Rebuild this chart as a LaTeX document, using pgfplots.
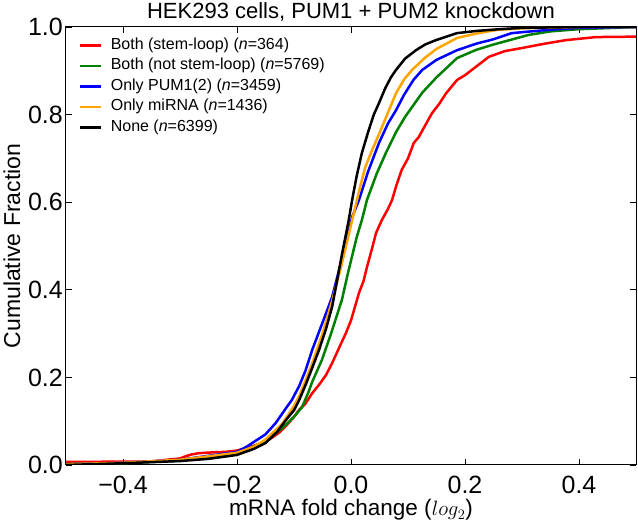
\documentclass[border=0pt]{standalone}
\usepackage{fontspec}
\setmainfont{Liberation Sans}
\usepackage{pgfplots}
\pgfplotsset{compat=1.18}
\definecolor{mplgreen}{RGB}{0,128,0}
\definecolor{mplorange}{RGB}{255,165,0}

\begin{document}
\begin{tikzpicture}
\begin{axis}[
    name=ax,
    scale only axis,
    width=570pt, height=438pt,
    xmin=-0.5, xmax=0.5, ymin=0, ymax=1,
    xtick={-0.4,-0.2,0,0.2,0.4},
    xticklabels={−0.4,−0.2,0.0,0.2,0.4},
    ytick={0,0.2,0.4,0.6,0.8,1},
    yticklabels={0.0,0.2,0.4,0.6,0.8,1.0},
    tick align=inside, tick pos=both,
    major tick length=6pt,
    tick style={black, line width=0.8pt},
    axis line style={line width=1pt},
    ticklabel style={font=\fontsize{25}{25}\selectfont},
    xticklabel style={anchor=center, inner sep=0pt, yshift=-20pt},
    yticklabel style={anchor=east, inner sep=0pt, xshift=-3pt},
    title={HEK293 cells, PUM1 + PUM2 knockdown},
    title style={font=\fontsize{22}{22}\selectfont, at={(axis description cs:0.5,1.0205)}, anchor=center},
    xlabel={mRNA fold change ($log_2$)},
    xlabel style={font=\fontsize{22.5}{22.5}\selectfont, inner sep=0pt, at={(axis description cs:0.5,-0.103)}, anchor=center},
    ylabel={Cumulative Fraction},
    ylabel style={font=\fontsize{23}{23}\selectfont, at={(axis description cs:-0.095,0.5)}, anchor=center},
    legend cell align=left,
    legend style={at={(axis description cs:0.016,0.985)}, anchor=north west,
        draw=none, fill=none, font=\fontsize{16}{16}\selectfont,
        row sep=1.5pt,
        /tikz/every odd column/.style={column sep=7pt},
        nodes={inner sep=2pt, text height=11.5pt, text depth=3.5pt}},
    legend image code/.code={\draw[#1] (0pt,0pt) -- (21pt,0pt);},
    every axis plot/.append style={line width=2.5pt, line join=round},
]
% Both (stem-loop)
\addplot[red] coordinates {
(-0.5,0.007) (-0.35,0.008) (-0.33,0.011) (-0.3,0.015) (-0.29,0.020) (-0.28,0.024)
(-0.267,0.027) (-0.24,0.029) (-0.22,0.030) (-0.2,0.033) (-0.184,0.039) (-0.16,0.048)
(-0.139,0.062) (-0.125,0.075) (-0.11,0.095) (-0.1,0.110) (-0.091,0.126) (-0.08,0.140)
(-0.068,0.164) (-0.055,0.185) (-0.044,0.205) (-0.033,0.233) (-0.02,0.270) (-0.009,0.301)
(0.0,0.330) (0.014,0.393) (0.022,0.420) (0.028,0.452) (0.036,0.490) (0.044,0.530)
(0.054,0.559) (0.065,0.585) (0.072,0.605) (0.08,0.640) (0.089,0.674) (0.1,0.700)
(0.11,0.735) (0.119,0.749) (0.13,0.775) (0.142,0.803) (0.155,0.825) (0.167,0.849)
(0.186,0.879) (0.2,0.890) (0.22,0.910) (0.242,0.932) (0.27,0.945) (0.3,0.952)
(0.34,0.962) (0.377,0.970) (0.43,0.977) (0.5,0.978)
};
% Both (not stem-loop)
\addplot[mplgreen] coordinates {
(-0.5,0.002) (-0.4,0.004) (-0.3,0.010) (-0.2,0.025) (-0.15,0.055) (-0.12,0.085)
(-0.1,0.110) (-0.086,0.132) (-0.075,0.165) (-0.068,0.190) (-0.051,0.240) (-0.035,0.300)
(-0.016,0.377) (-0.005,0.440) (0.01,0.520) (0.019,0.559) (0.028,0.605) (0.045,0.665)
(0.061,0.712) (0.079,0.760) (0.095,0.795) (0.107,0.817) (0.125,0.850) (0.15,0.885)
(0.186,0.929) (0.22,0.948) (0.25,0.960) (0.312,0.982) (0.35,0.990) (0.4,0.995) (0.5,1.0)
};
% Only PUM1(2)
\addplot[blue] coordinates {
(-0.5,0.002) (-0.4,0.005) (-0.3,0.012) (-0.2,0.030) (-0.184,0.041) (-0.15,0.070)
(-0.132,0.096) (-0.115,0.128) (-0.104,0.148) (-0.091,0.180) (-0.08,0.215) (-0.068,0.263)
(-0.05,0.325) (-0.033,0.384) (-0.015,0.475) (0.002,0.566) (0.014,0.605) (0.03,0.670)
(0.049,0.735) (0.065,0.780) (0.079,0.810) (0.093,0.845) (0.11,0.880) (0.125,0.902)
(0.15,0.925) (0.186,0.947) (0.22,0.962) (0.25,0.972) (0.282,0.986) (0.35,0.994)
(0.4,0.998) (0.5,1.0)
};
% Only miRNA
\addplot[mplorange] coordinates {
(-0.5,0.002) (-0.4,0.005) (-0.3,0.012) (-0.2,0.028) (-0.17,0.042) (-0.15,0.058)
(-0.12,0.095) (-0.1,0.135) (-0.09,0.160) (-0.07,0.225) (-0.05,0.300) (-0.033,0.375)
(-0.016,0.460) (-0.005,0.520) (0.002,0.559) (0.015,0.630) (0.025,0.680) (0.037,0.719)
(0.049,0.755) (0.065,0.805) (0.079,0.849) (0.093,0.880) (0.107,0.902) (0.13,0.930)
(0.15,0.950) (0.186,0.975) (0.22,0.985) (0.254,0.993) (0.3,0.997) (0.4,1.0) (0.5,1.0)
};
% None
\addplot[black] coordinates {
(-0.5,0.0) (-0.4,0.004) (-0.3,0.009) (-0.25,0.014) (-0.2,0.023) (-0.17,0.037)
(-0.15,0.050) (-0.13,0.075) (-0.114,0.103) (-0.1,0.125) (-0.091,0.148) (-0.079,0.185)
(-0.068,0.222) (-0.056,0.263) (-0.044,0.310) (-0.033,0.362) (-0.026,0.410) (-0.016,0.480)
(-0.004,0.559) (0.002,0.605) (0.01,0.660) (0.019,0.712) (0.03,0.760) (0.04,0.800)
(0.049,0.826) (0.06,0.860) (0.07,0.885) (0.079,0.902) (0.095,0.928) (0.114,0.947)
(0.13,0.960) (0.149,0.970) (0.186,0.986) (0.22,0.991) (0.26,0.995) (0.3,0.998)
(0.4,1.0) (0.5,1.0)
};
\legend{Both (stem-loop) (\textit{n}=364), Both (not stem-loop) (\textit{n}=5769),
        Only PUM1(2) (\textit{n}=3459), Only miRNA (\textit{n}=1436), None (\textit{n}=6399)}
\end{axis}
\pgfresetboundingbox
\path[use as bounding box] ([shift={(-66pt,-57pt)}]ax.south west) rectangle ([shift={(2pt,27pt)}]ax.north east);
\end{tikzpicture}
\end{document}
